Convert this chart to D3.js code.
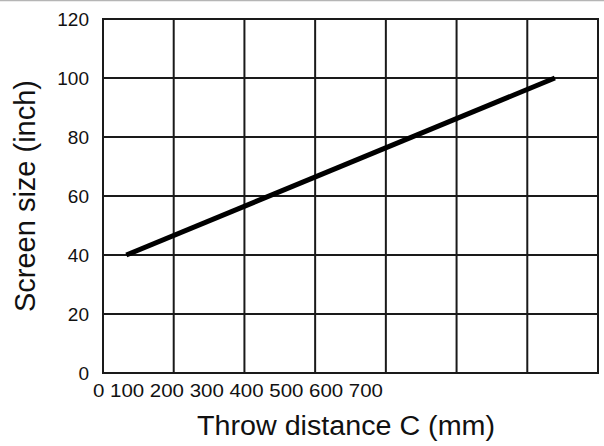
<!DOCTYPE html>
<html>
<head>
  <meta charset=utf-8 />
  <title>Screen size</title>
  <script type="text/javascript" src="https://d3js.org/d3.v7.min.js"></script>
  <style>
    body { margin: 0; background: white; }
    text { font-family: "Liberation Sans", Arial, sans-serif; fill: #111; }
  </style>
  <script>
    var w = 604;
    var h = 446;

    // grid values
    var gridX = [0, 100, 200, 300, 400, 500, 600, 700];
    var gridY = [0, 20, 40, 60, 80, 100, 120];
    // tick labels of the x axis (printed as one run of text)
    var xLabels = ["0", "100", "200", "300", "400", "500", "600", "700"];
    // the plotted series
    var throwDist = [33, 639];
    var screenSize = [40, 100];

    function load() {
      var svg = d3.select("#vis")
        .append("svg")
        .attr("width", w)
        .attr("height", h);

      svg.append("rect")
        .attr("width", w)
        .attr("height", h)
        .attr("fill", "white");

      // thin grey rule at the very top
      svg.append("line")
        .attr("x1", 0).attr("x2", w)
        .attr("y1", 0.5).attr("y2", 0.5)
        .attr("stroke", "#b5b5b5")
        .attr("stroke-width", 1.5);

      var x = d3.scaleLinear().domain([0, 700]).range([103, 598]);
      var y = d3.scaleLinear().domain([0, 120]).range([373, 19]);

      var grid = svg.append("g")
        .attr("stroke", "#1a1a1a")
        .attr("stroke-width", 2);

      grid.selectAll("line.v")
        .data(gridX)
        .enter()
        .append("line")
        .attr("class", "v")
        .attr("x1", function(d) { return x(d); })
        .attr("x2", function(d) { return x(d); })
        .attr("y1", y(0) + 1)
        .attr("y2", y(120) - 1);

      grid.selectAll("line.h")
        .data(gridY)
        .enter()
        .append("line")
        .attr("class", "h")
        .attr("x1", x(0) - 1)
        .attr("x2", x(700) + 1)
        .attr("y1", function(d) { return y(d); })
        .attr("y2", function(d) { return y(d); });

      // y tick labels
      svg.selectAll("text.yt")
        .data(gridY)
        .enter()
        .append("text")
        .attr("class", "yt")
        .attr("x", 89)
        .attr("y", function(d) { return y(d); })
        .attr("dy", "0.36em")
        .attr("text-anchor", "end")
        .style("font-size", "19px")
        .text(function(d) { return d; });

      // x tick labels, crammed together as in the original
      svg.append("text")
        .attr("x", 93)
        .attr("y", 397)
        .attr("textLength", 290)
        .attr("lengthAdjust", "spacingAndGlyphs")
        .style("font-size", "19px")
        .text(xLabels.join(" "));

      // series line
      var pts = throwDist.map(function(d, i) { return [d, screenSize[i]]; });
      var line = d3.line()
        .x(function(d) { return x(d[0]); })
        .y(function(d) { return y(d[1]); });

      svg.append("path")
        .datum(pts)
        .attr("d", line)
        .attr("fill", "none")
        .attr("stroke", "#000")
        .attr("stroke-width", 5)
        .attr("stroke-linecap", "butt");

      // axis titles
      svg.append("text")
        .attr("x", 346)
        .attr("y", 435)
        .attr("text-anchor", "middle")
        .attr("textLength", 298)
        .attr("lengthAdjust", "spacingAndGlyphs")
        .style("font-size", "27px")
        .text("Throw distance C (mm)");

      svg.append("text")
        .attr("transform", "translate(35,196) rotate(-90)")
        .attr("text-anchor", "middle")
        .attr("textLength", 232)
        .attr("lengthAdjust", "spacingAndGlyphs")
        .style("font-size", "29px")
        .text("Screen size (inch)");
    }
  </script>
</head>
<body onload="load()">
  <div id="vis"></div>
</body>
</html>
